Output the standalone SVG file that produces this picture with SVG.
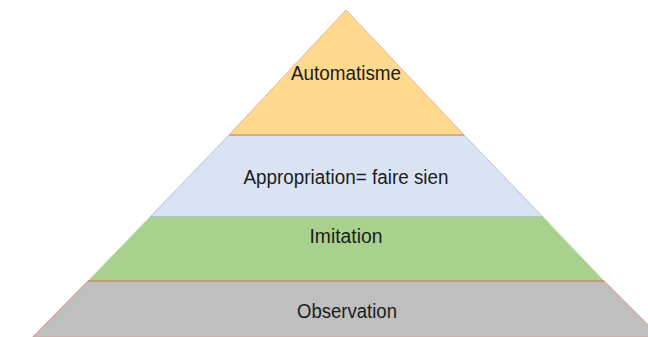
<svg xmlns="http://www.w3.org/2000/svg" width="648" height="337" viewBox="0 0 648 337">
<style>
.lbl{font-family:"Liberation Sans",Arial,sans-serif;font-size:19.5px;fill:#1c1c1c;text-anchor:middle}
</style>
<rect width="648" height="337" fill="#ffffff"/>
<g id="observation">
<polygon points="88,281 604,281 660,337 33,337" fill="#bfbfbf" stroke="#d9a39a" stroke-width="1.2"/>
<text class="lbl" x="347" y="318" textLength="100" lengthAdjust="spacingAndGlyphs">Observation</text>
</g>
<g id="imitation">
<polygon points="150,217 543,217 604,281 88,281" fill="#a9d18e" stroke="#c2d9b0" stroke-width="1"/>
<line x1="88" y1="281" x2="604" y2="281" stroke="#c08a6a" stroke-width="1.5"/>
<text class="lbl" x="346" y="243" textLength="73" lengthAdjust="spacingAndGlyphs">Imitation</text>
</g>
<g id="appropriation">
<polygon points="229,135 464,135 543,217 150,217" fill="#dae3f3" stroke="#b8c4cf" stroke-width="1"/>
<line x1="150" y1="217" x2="543" y2="217" stroke="#9fbf9a" stroke-width="1.2"/>
<text class="lbl" x="346" y="184" textLength="205" lengthAdjust="spacingAndGlyphs">Appropriation= faire sien</text>
</g>
<g id="automatisme">
<polygon points="346,10 464,135 229,135" fill="#ffd98e" stroke="#e8b0a0" stroke-width="1"/>
<line x1="229" y1="135" x2="464" y2="135" stroke="#d8a080" stroke-width="1.5"/>
<text class="lbl" x="346" y="80" textLength="110" lengthAdjust="spacingAndGlyphs">Automatisme</text>
</g>
<g id="connectors"/>
</svg>
